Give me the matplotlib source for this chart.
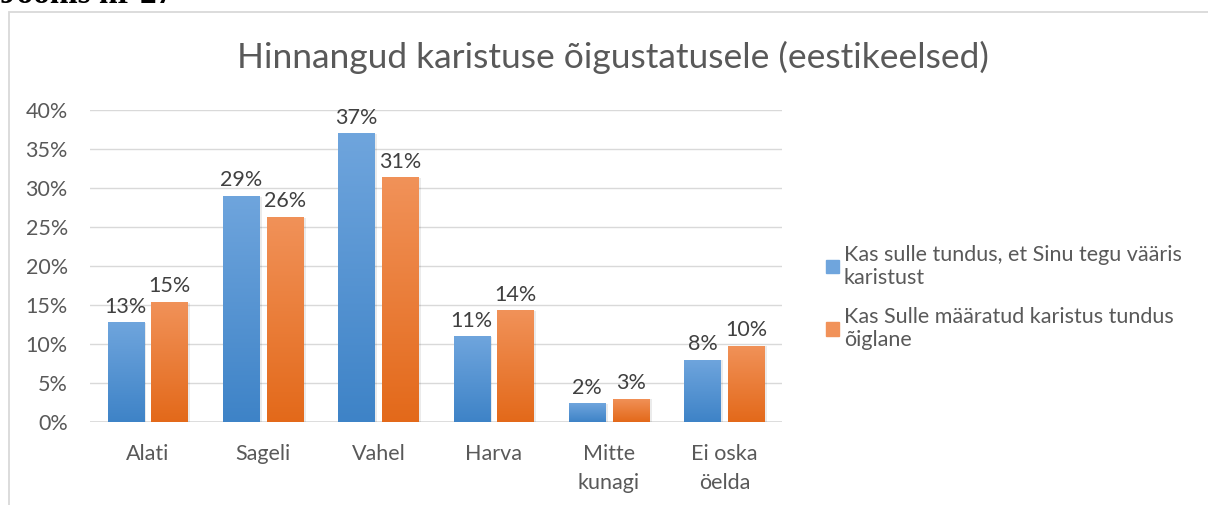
import numpy as np
import matplotlib
matplotlib.use("Agg")
import matplotlib.pyplot as plt
from matplotlib.patches import Rectangle
from matplotlib.colors import LinearSegmentedColormap

plt.rcParams['font.family'] = ['Lato', 'DejaVu Sans']

# Data
categories = ['Alati', 'Sageli', 'Vahel', 'Harva', 'Mitte\nkunagi', 'Ei oska\nöelda']
deserved = [12.8, 29.0, 37.0, 11.0, 2.4, 8.0]      # Kas sulle tundus, et Sinu tegu vääris karistust
fair = [15.4, 26.3, 31.4, 14.3, 3.0, 9.8]           # Kas Sulle määratud karistus tundus õiglane
series_names = ['Kas sulle tundus, et Sinu tegu vääris\nkaristust',
                'Kas Sulle määratud karistus tundus\nõiglane']
yticks = [0, 5, 10, 15, 20, 25, 30, 35, 40]

text_col = '#595959'
grid_col = '#D9D9D9'
blue_top, blue_bot = '#6FA5DD', '#3E83C7'
orange_top, orange_bot = '#F19259', '#E3691A'
fs = 15.5

fig = plt.figure(figsize=(12.08, 5.05), dpi=100)
ax = fig.add_axes([90 / 1208, 83 / 505, 692 / 1208, 312 / 505])

x = np.arange(len(categories))
w = 0.315
off = 0.19
bars1 = ax.bar(x - off, deserved, w, color=blue_bot, zorder=3)
bars2 = ax.bar(x + off, fair, w, color=orange_bot, zorder=3)


def gradient(bars, top, bot):
    cmap = LinearSegmentedColormap.from_list('g', [bot, top])
    grad = np.linspace(0, 1, 256).reshape(-1, 1)
    for b in bars:
        x0, y0 = b.get_x(), b.get_y()
        bw, bh = b.get_width(), b.get_height()
        # soft shadow
        ax.add_patch(Rectangle((x0 + 0.012, y0 - 0.15), bw + 0.01, bh + 0.05,
                               color='#000000', alpha=0.08, lw=0, zorder=2))
        im = ax.imshow(grad, cmap=cmap, aspect='auto', origin='lower',
                       extent=[x0, x0 + bw, y0, y0 + bh], zorder=3.5)
        im.set_clip_path(b)


gradient(bars1, blue_top, blue_bot)
gradient(bars2, orange_top, orange_bot)

for bars, vals in ((bars1, deserved), (bars2, fair)):
    for b, v in zip(bars, vals):
        ax.text(b.get_x() + b.get_width() / 2, v + 0.7, f'{round(v):.0f}%',
                ha='center', va='bottom', fontsize=fs, color='#404040', zorder=5)

ax.set_xlim(-0.5, len(categories) - 0.5)
ax.set_ylim(0, 40)
ax.set_yticks(yticks)
ax.set_yticklabels([f'{t}%' for t in yticks])
ax.set_xticks(x)
ax.set_xticklabels(categories, linespacing=1.55)
ax.tick_params(axis='both', length=0, labelsize=fs, labelcolor=text_col)
ax.tick_params(axis='y', pad=16)
ax.tick_params(axis='x', pad=16)
ax.grid(axis='y', color=grid_col, lw=1, zorder=0)
for s in ax.spines.values():
    s.set_visible(False)
ax.axhline(0, color=grid_col, lw=1.2, zorder=1)

ax.set_title('Hinnangud karistuse õigustatusele (eestikeelsed)', fontsize=25.5,
             color=text_col, x=523 / 692, y=1.0, pad=30, ha='center')

handles = [Rectangle((0, 0), 1, 1, color=blue_top), Rectangle((0, 0), 1, 1, color=orange_top)]
fig.legend(handles, series_names, loc='upper left',
           bbox_to_anchor=(817 / 1208, 1 - 236 / 505),
           frameon=False, fontsize=fs, labelcolor=text_col, handlelength=0.6,
           handleheight=0.6, handletextpad=0.25, labelspacing=0.9, borderaxespad=0)

# chart frame
fig.add_artist(Rectangle((9 / 1208, -0.1), 2, 1.1 - 12 / 505, transform=fig.transFigure,
                         fill=False, ec=grid_col, lw=1.3))
fig.text(0.0, 1 - 3 / 505, 'Joonis nr 27', family='Liberation Serif', weight='bold',
         fontsize=24, va='baseline', ha='left', color='black')

fig.savefig('out.png', dpi=100)
